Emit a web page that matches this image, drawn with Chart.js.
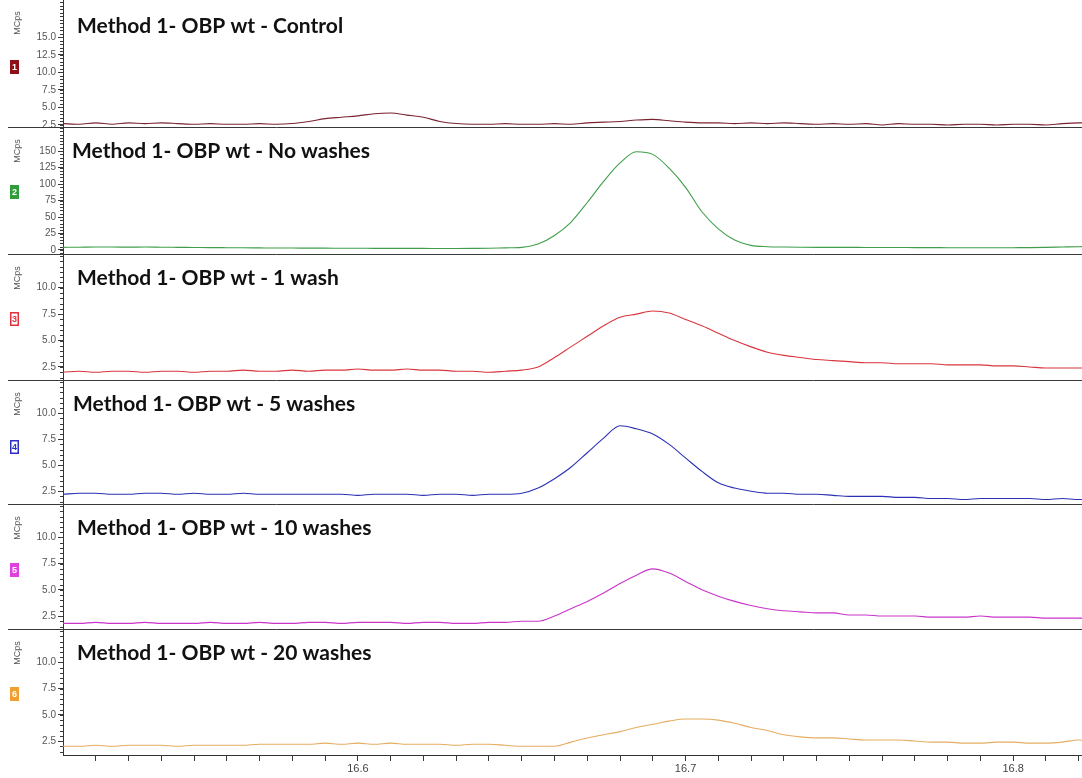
<!DOCTYPE html>
<html>
<head>
<meta charset="utf-8">
<title>Method 1 - OBP wt</title>
<script src="https://cdnjs.cloudflare.com/ajax/libs/Chart.js/4.4.1/chart.umd.min.js"></script>
<style>
  html,body{margin:0;padding:0;background:#fff;}
  #stack{position:relative;width:1082px;height:778px;overflow:hidden;background:#fff;}
  #stack canvas{position:absolute;left:0;}
</style>
</head>
<body>
<div id="stack"></div>
<script>
// Retention time (min), shared by all six traces
const RT = [
  16.510,16.515,16.520,16.525,16.530,16.535,16.540,16.545,16.550,16.555,
  16.560,16.565,16.570,16.575,16.580,16.585,16.590,16.595,16.600,16.605,
  16.610,16.615,16.620,16.625,16.630,16.635,16.640,16.645,16.650,16.655,
  16.660,16.665,16.670,16.675,16.680,16.685,16.690,16.695,16.700,16.705,
  16.710,16.715,16.720,16.725,16.730,16.735,16.740,16.745,16.750,16.755,
  16.760,16.765,16.770,16.775,16.780,16.785,16.790,16.795,16.800,16.805,
  16.810,16.815,16.820,16.825
];

const TITLES = [
  'Method 1- OBP wt - Control',
  'Method 1- OBP wt - No washes',
  'Method 1- OBP wt - 1 wash',
  'Method 1- OBP wt - 5 washes',
  'Method 1- OBP wt - 10 washes',
  'Method 1- OBP wt - 20 washes'
];

// Intensity, MCps
const CONTROL = [
  2.7,2.6,2.8,2.6,2.8,2.7,2.8,2.7,2.6,2.7, 2.6,2.6,2.7,2.6,2.7,3.0,3.4,3.6,3.8,4.1,
  4.2,3.9,3.6,3.0,2.7,2.6,2.6,2.7,2.6,2.6, 2.7,2.6,2.8,2.9,3.0,3.2,3.3,3.1,2.9,2.8,
  2.8,2.7,2.8,2.7,2.8,2.7,2.6,2.7,2.6,2.7, 2.5,2.7,2.6,2.6,2.5,2.6,2.6,2.5,2.6,2.6,
  2.5,2.7,2.8,2.8
];
const NO_WASH = [
  4.0,4.2,4.5,4.5,4.3,4.5,4.2,4.0,3.8,3.6, 3.5,3.4,3.2,3.0,3.0,2.8,2.8,2.6,2.6,2.5,
  2.5,2.4,2.4,2.3,2.3,2.4,2.6,3.2,4,9, 22,42,72,104,132,149,145,124,95,58,
  32,15,7,5,4.5,4.2,4.0,4.0,4.0,3.8, 3.8,3.8,3.6,3.6,3.5,3.5,3.4,3.4,3.5,3.6,
  4.0,4.5,5.0,5.2
];
const WASH_1 = [
  2.0,2.1,2.0,2.1,2.1,2.0,2.1,2.1,2.0,2.1, 2.1,2.2,2.1,2.1,2.2,2.1,2.2,2.2,2.3,2.2,
  2.2,2.3,2.2,2.2,2.1,2.1,2.0,2.1,2.2,2.5, 3.4,4.4,5.4,6.4,7.2,7.5,7.8,7.6,7.0,6.4,
  5.7,5.0,4.4,3.9,3.6,3.4,3.2,3.1,3.0,2.9, 2.9,2.8,2.8,2.8,2.7,2.7,2.7,2.6,2.6,2.5,
  2.4,2.4,2.4,2.4
];
const WASH_5 = [
  2.2,2.3,2.3,2.2,2.2,2.3,2.3,2.2,2.3,2.2, 2.2,2.3,2.2,2.2,2.2,2.2,2.2,2.2,2.1,2.2,
  2.2,2.2,2.1,2.2,2.2,2.1,2.2,2.2,2.3,2.8, 3.7,4.8,6.2,7.6,8.8,8.5,8.0,7.0,5.7,4.4,
  3.3,2.8,2.5,2.3,2.3,2.2,2.2,2.1,2.0,2.0, 2.0,1.9,1.9,1.8,1.8,1.7,1.8,1.8,1.8,1.8,
  1.7,1.8,1.7,1.7
];
const WASH_10 = [
  1.8,1.8,1.9,1.8,1.8,1.9,1.8,1.8,1.8,1.9, 1.8,1.8,1.9,1.8,1.8,1.9,1.9,1.8,1.9,1.9,
  1.9,1.8,1.9,1.9,1.8,1.8,1.9,1.9,2.0,2.0, 2.5,3.2,3.9,4.7,5.6,6.4,7.0,6.6,5.8,5.0,
  4.4,3.9,3.5,3.2,3.0,2.9,2.8,2.8,2.6,2.6, 2.5,2.5,2.5,2.4,2.4,2.4,2.5,2.4,2.4,2.4,
  2.3,2.3,2.3,2.3
];
const WASH_20 = [
  2.0,2.0,2.1,2.0,2.1,2.1,2.1,2.0,2.1,2.1, 2.1,2.1,2.2,2.2,2.2,2.2,2.3,2.2,2.3,2.2,
  2.3,2.2,2.2,2.2,2.1,2.2,2.2,2.1,2.0,2.0, 2.0,2.4,2.8,3.1,3.4,3.8,4.1,4.4,4.6,4.6,
  4.5,4.2,3.8,3.5,3.1,2.9,2.8,2.8,2.7,2.6, 2.6,2.6,2.5,2.4,2.4,2.3,2.3,2.4,2.4,2.3,
  2.3,2.4,2.6,2.4
];
const SERIES = [CONTROL, NO_WASH, WASH_1, WASH_5, WASH_10, WASH_20];

// Axis ranges and tick values
const X_MIN = 16.510, X_MAX = 16.821;
const X_TICKS = [16.52,16.53,16.54,16.55,16.56,16.57,16.58,16.59,16.60,16.61,16.62,16.63,16.64,16.65,
  16.66,16.67,16.68,16.69,16.70,16.71,16.72,16.73,16.74,16.75,16.76,16.77,16.78,16.79,16.80,16.81,16.82];
const X_LABELS = [16.6, 16.7, 16.8];
const Y_MIN = [2.07, -7.6, 1.17, 1.17, 1.17, 1.17];
const Y_MAX = [20.3, 185, 13.1, 13.1, 13.1, 13.1];
const Y_TICKS = [
  [2.5,5,7.5,10,12.5,15],
  [0,25,50,75,100,125,150],
  [2.5,5,7.5,10],
  [2.5,5,7.5,10],
  [2.5,5,7.5,10],
  [2.5,5,7.5,10]
];
const Y_MINOR = [0.5, 5, 0.5, 0.5, 0.5, 0.5];

// --- Look & layout ---------------------------------------------------------
const LINE_COLORS = ['#7a2430','#3f9e4a','#d9363e','#2c30b4','#c935c9','#e5ad62'];
const BOX_COLORS  = ['#8e1016','#2f9e3a','#e0303a','#2b2fc4','#e040e0','#f0a030'];
const BOX_HOLLOW  = [false,false,true,true,false,false];
const PANEL_TOP = [0,128,255,381,505,630];
const PANEL_H   = [128,127,126,124,125,148];
const TITLE_X   = [77,72,77,73,77,77];
const BOX_Y     = [60,57,57,59,58,57];
const AXIS_W = 63, XAXIS_H = 23, W = 1082;
const TICK_FONT = "'Liberation Sans Narrow','Liberation Sans',Arial,sans-serif";

// draws the ruler-style minor ticks, panel separator, MCps label, trace number box and title
const panelDecor = {
  id:'panelDecor',
  afterDraw(chart, args, o){
    const {ctx, chartArea:ca, scales:{y}} = chart;
    ctx.save();
    ctx.strokeStyle = '#3a3a3a'; ctx.lineWidth = 1;
    ctx.beginPath();
    const k0 = Math.ceil(y.min/o.minor), k1 = Math.floor(y.max/o.minor);
    for(let k=k0;k<=k1;k++){
      const py = Math.round(y.getPixelForValue(k*o.minor))+0.5;
      ctx.moveTo(ca.left-3, py); ctx.lineTo(ca.left, py);
    }
    if(!o.last){ // separator under the panel
      ctx.moveTo(8, ca.bottom-0.5); ctx.lineTo(W, ca.bottom-0.5);
    }
    ctx.stroke();

    // MCps, rotated
    ctx.fillStyle = '#555';
    ctx.font = "9px " + TICK_FONT;
    ctx.translate(20, ca.top+23);
    ctx.rotate(-Math.PI/2);
    ctx.textAlign = 'center'; ctx.textBaseline = 'alphabetic';
    ctx.fillText('MCps', 0, 0);
    ctx.setTransform(1,0,0,1,0,0);

    // numbered trace box
    const bx = 10, by = ca.top + o.boxY, bw = 9, bh = 14;
    if(o.hollow){
      ctx.fillStyle = '#fff'; ctx.fillRect(bx,by,bw,bh);
      ctx.strokeStyle = o.box; ctx.lineWidth = 1.5; ctx.strokeRect(bx+0.75,by+0.75,bw-1.5,bh-1.5);
      ctx.fillStyle = o.box;
    } else {
      ctx.fillStyle = o.box; ctx.fillRect(bx,by,bw,bh);
      ctx.fillStyle = '#fff';
    }
    ctx.font = "bold 9px " + TICK_FONT;
    ctx.textAlign = 'center'; ctx.textBaseline = 'middle';
    ctx.fillText(String(o.idx+1), bx+bw/2, by+bh/2+0.5);

    // panel title
    ctx.fillStyle = '#111';
    ctx.font = "bold 21px Lato, 'Open Sans', sans-serif";
    ctx.textAlign = 'left'; ctx.textBaseline = 'alphabetic';
    ctx.fillText(o.title, o.titleX, ca.top + (o.idx===0?33:30));
    ctx.restore();
  }
};

function makePanel(i){
  const last = i === SERIES.length-1;
  const cv = document.createElement('canvas');
  cv.width = W; cv.height = PANEL_H[i];
  cv.style.top = PANEL_TOP[i]+'px';
  document.getElementById('stack').appendChild(cv);
  const dec = Y_TICKS[i][1]-Y_TICKS[i][0] >= 5 ? 0 : 1;
  return new Chart(cv, {
    type:'line',
    data:{datasets:[{
      data: RT.map((t,j)=>({x:t, y:SERIES[i][j]})),
      borderColor: LINE_COLORS[i], borderWidth: 1.1,
      pointRadius: 0, tension: 0.3, cubicInterpolationMode:'monotone', fill:false
    }]},
    options:{
      responsive:false, animation:false, events:[],
      layout:{padding:0},
      plugins:{legend:{display:false}, tooltip:{enabled:false},
        panelDecor:{idx:i, minor:Y_MINOR[i], last, title:TITLES[i], titleX:TITLE_X[i],
                    boxY:BOX_Y[i], box:BOX_COLORS[i], hollow:BOX_HOLLOW[i]}},
      scales:{
        x:{type:'linear', min:X_MIN, max:X_MAX, display:last,
           afterBuildTicks: s => { s.ticks = X_TICKS.map(v=>({value:v})); },
           afterFit: s => { s.height = last ? XAXIS_H : 0; s.paddingLeft = 0; s.paddingRight = 0; },
           ticks:{autoSkip:false, maxRotation:0, padding:1, color:'#444',
                  font:{family:TICK_FONT, size:11},
                  callback: v => X_LABELS.some(m=>Math.abs(m-v)<1e-6) ? v.toFixed(1) : ''},
           grid:{drawOnChartArea:false, tickLength:6, color:'#3a3a3a'},
           border:{color:'#333', width:1}},
        y:{min:Y_MIN[i], max:Y_MAX[i],
           afterBuildTicks: s => { s.ticks = Y_TICKS[i].map(v=>({value:v})); },
           // panel keeps its full height; edge labels may spill over
           afterFit: s => { s.width = AXIS_W; s.paddingTop = 0; s.paddingBottom = 0; },
           ticks:{color:'#555', padding:2, font:{family:TICK_FONT, size:10},
                  callback: v => v.toFixed(dec)},
           grid:{drawOnChartArea:false, tickLength:5, color:'#3a3a3a'},
           border:{color:'#333', width:1}}
      }
    },
    plugins:[panelDecor]
  });
}

SERIES.forEach((s,i)=>makePanel(i));
</script>
</body>
</html>
